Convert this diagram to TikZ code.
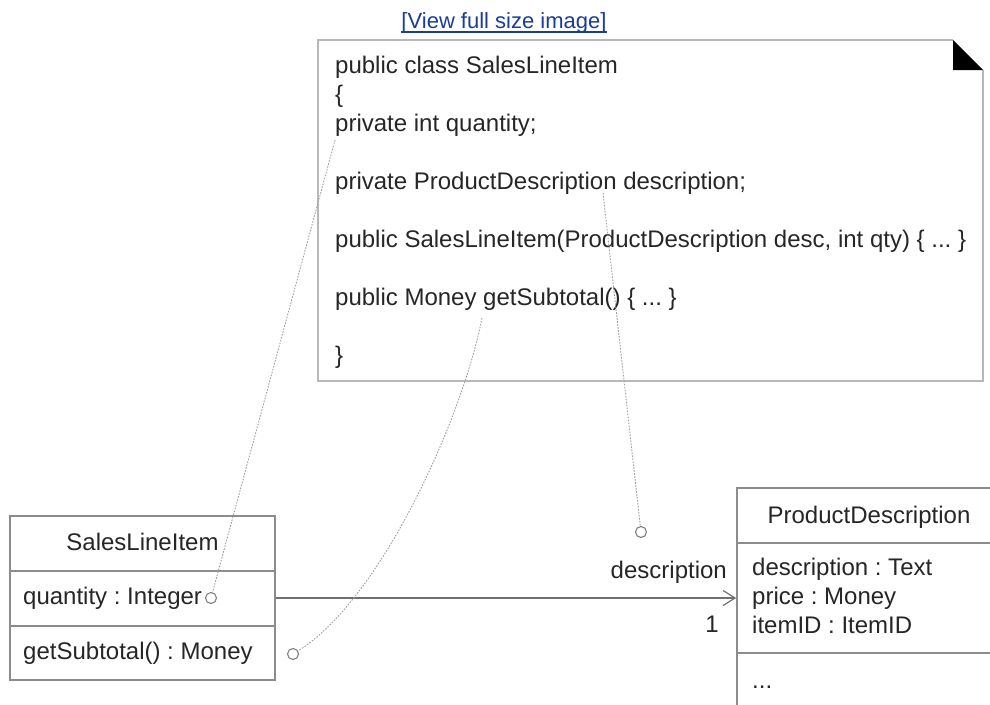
\documentclass[tikz,border=0pt]{standalone}
\usepackage{fontspec}
\setmainfont{Liberation Sans}
\usetikzlibrary{arrows.meta}
\definecolor{txt}{HTML}{262626}
\definecolor{notebd}{HTML}{B8B8B8}
\definecolor{boxbd}{HTML}{8C8C8C}
\definecolor{assocc}{HTML}{707070}
\definecolor{linkblue}{HTML}{1A3C9A}
\frenchspacing
\begin{document}
\begin{tikzpicture}[x=1pt,y=-1pt,
  txtstyle/.style={inner sep=0pt, text=txt, font=\frenchspacing\fontsize{24}{29}\selectfont},
  codeline/.style={txtstyle, anchor=base west},
  classbox/.style={draw=boxbd, line width=1.6pt, inner sep=0pt, fill=white},
  divider/.style={draw=boxbd, line width=1.6pt},
  knob/.style={circle, draw=gray, line width=1.1pt, minimum size=11pt, inner sep=0pt, fill=white},
  tether/.style={draw=gray!75, line width=0.9pt, dash pattern=on 1.6pt off 1.4pt},
  assoc/.style={draw=assocc, line width=1.5pt, -{Straight Barb[length=12pt,width=15pt,line width=1.2pt]}}
]
\useasboundingbox (0,0) rectangle (990,704);
\clip (0,0) rectangle (990,704);

% link
\node[anchor=base, inner sep=0pt, text=linkblue, font=\fontsize{22}{26}\selectfont] (link) at (504,28) {[View full size image]};
\draw[linkblue, line width=1.1pt] ([yshift=-4pt]link.base west) -- ([yshift=-4pt]link.base east);

% note
\draw[notebd, line width=1.6pt] (953,40) -- (318,40) -- (318,381) -- (983,381) -- (983,70);
\fill[black] (953,40) -- (983,70) -- (953,70) -- cycle;

\node[codeline] (c1) at (335,73) {public class SalesLineItem};
\node[codeline] (c2) at (335,102) {\{};
\node[codeline] (c3) at (335,131) {private int quantity;};
\node[codeline] (c4) at (335,189) {private ProductDescription description;};
\node[codeline] (c5) at (335,247) {public SalesLineItem(ProductDescription desc, int qty) \{ ... \}};
\node[codeline] (c6) at (335,305) {public Money getSubtotal() \{ ... \}};
\node[codeline] (c7) at (335,363) {\}};

% class SalesLineItem
\node[classbox, minimum width=265pt, minimum height=164pt] (sli) at (142.5,598) {};
\draw[divider] (10,571) -- (275,571);
\draw[divider] (10,626) -- (275,626);
\node[txtstyle, anchor=base] (sliname) at (142.5,550) {SalesLineItem};
\node[codeline] (qty) at (23,604) {quantity : Integer};
\node[codeline] (gst) at (23,659) {getSubtotal() : Money};

% class ProductDescription
\node[classbox, minimum width=264pt, minimum height=220pt] (pd) at (869,598) {};
\draw[divider] (737,543) -- (1001,543);
\draw[divider] (737,653) -- (1001,653);
\node[txtstyle, anchor=base] (pdname) at (869,523) {ProductDescription};
\node[codeline] (pa1) at (752,575) {description : Text};
\node[codeline] (pa2) at (752,604) {price : Money};
\node[codeline] (pa3) at (752,633) {itemID : ItemID};
\node[codeline] (pops) at (752,688) {...};

% association
\draw[assoc] (sli.east) -- (pd.west);
\node[txtstyle, anchor=base east] (role) at (727,578) {description};
\node[txtstyle, anchor=base] (mult) at (712,632) {1};

% knobs
\node[knob] (k1) at (211,598) {};
\node[knob] (k2) at (293,654) {};
\node[knob] (k3) at (641,532) {};

% tethers
\coordinate (t1) at (335,140);
\coordinate (t2) at (482,318);
\coordinate (t3) at (603,193);
\draw[tether] (t1) -- (k1);
\draw[tether] (t2) .. controls (462,420) and (380,600) .. (k2);
\draw[tether] (t3) -- (k3);
\end{tikzpicture}
\end{document}
